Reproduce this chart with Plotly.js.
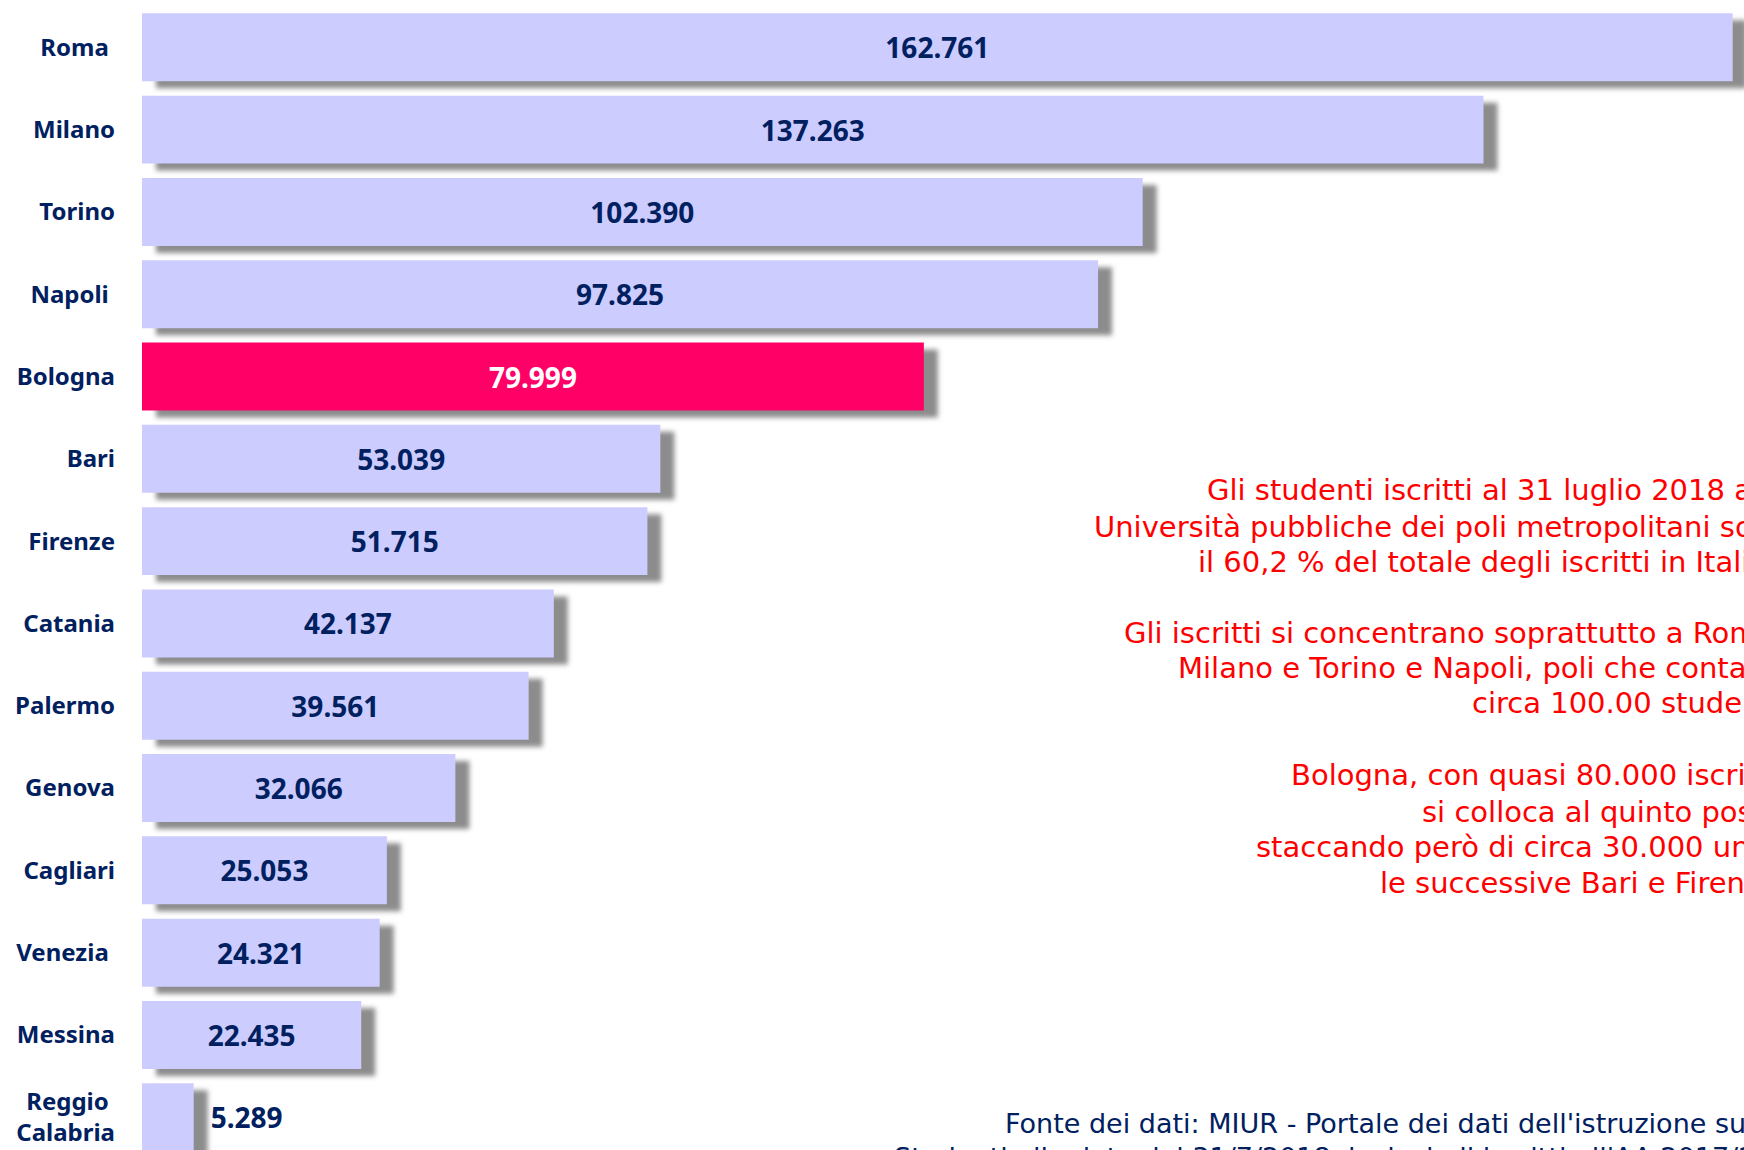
<!DOCTYPE html>
<html>
<head>
<meta charset="utf-8">
<script src="https://cdn.plot.ly/plotly-3.0.1.min.js"></script>
<style>
  html, body { margin: 0; padding: 0; background: #ffffff; }
  #chart { width: 1744px; height: 1150px; }
  g.overplot > g.xy .bars path { filter: url(#shadowBlur); }
</style>
</head>
<body>
<svg width="0" height="0" style="position:absolute">
  <defs>
    <filter id="shadowBlur" x="-0.3" y="-0.3" width="1.6" height="1.6">
      <feGaussianBlur stdDeviation="2.5"/>
    </filter>
  </defs>
</svg>
<div id="chart"></div>
<script>
// ---- data ----
const categories = ["Roma", "Milano", "Torino", "Napoli", "Bologna", "Bari", "Firenze",
  "Catania", "Palermo", "Genova", "Cagliari", "Venezia", "Messina", "Reggio Calabria"];
const tickLabels = ["Roma\u00a0", "Milano", "Torino", "Napoli\u00a0", "Bologna", "Bari", "Firenze",
  "Catania", "Palermo", "Genova", "Cagliari", "Venezia\u00a0", "Messina", "Reggio\u00a0<br>Calabria"];
const students = [162761, 137263, 102390, 97825, 79999, 53039, 51715,
  42137, 39561, 32066, 25053, 24321, 22435, 5289];
const highlightCity = "Bologna";

const noteLines = [
  "Gli studenti iscritti al 31 luglio 2018 alle",
  "Università pubbliche dei poli metropolitani sono",
  "il 60,2 % del totale degli iscritti in Italia.",
  "Gli iscritti si concentrano soprattutto a Roma,",
  "Milano e Torino e Napoli, poli che contano",
  "circa 100.00 studenti.",
  "Bologna, con quasi 80.000 iscritti,",
  "si colloca al quinto posto,",
  "staccando però di circa 30.000 unità",
  "le successive Bari e Firenze."
];
const sourceLines = [
  "Fonte dei dati: MIUR - Portale dei dati dell'istruzione superiore",
  "Studenti alla data del 31/7/2018, inclusi gli iscritti all'AA 2017/2018"
];

// ---- styling / geometry ----
const W = 1744, H = 1150, ML = 142;
const plotW = W - ML;
const xMax = 163920;
const pxPerUnit = plotW / xMax;
const yRange = [13.398, -0.575];
const pitch = H / (yRange[0] - yRange[1]);
const shX = 14, shY = 7;               // shadow offset in px
const xOff = shX / pxPerUnit, yOff = shY / pitch;

const navy = "#002060";
const barColors = categories.map(c => c === highlightCity ? "#FF0066" : "#CCCCFF");
const textColors = categories.map(c => c === highlightCity ? "#FFFFFF" : navy);
const templates = students.map((v, i) => (i === students.length - 1 ? "\u2002%{x:,}" : "%{x:,}"));

const shadow = {
  type: "bar", orientation: "h",
  y: categories, x: students,
  xaxis: "x", yaxis: "y",
  marker: { color: "rgb(140,140,140)" },
  hoverinfo: "skip", showlegend: false
};

const bars = {
  type: "bar", orientation: "h",
  y: categories, x: students,
  xaxis: "x2", yaxis: "y2",
  marker: { color: barColors, line: { width: 0 } },
  texttemplate: templates,
  textposition: "auto",
  insidetextanchor: "middle",
  constraintext: "none",
  textfont: { family: "Noto Sans", size: 28, weight: "bold", color: textColors },
  insidetextfont: { family: "Noto Sans", size: 28, weight: "bold", color: textColors },
  outsidetextfont: { family: "Noto Sans", size: 28, weight: "bold", color: navy },
  cliponaxis: false,
  hoverinfo: "skip", showlegend: false
};

// note positions (px) : left start x, centre y
const noteX = [1205, 1092, 1196, 1122, 1176, 1470, 1289, 1420, 1254, 1378];
const noteY = [490, 527, 562, 633, 668, 703, 775, 812, 847, 883];
const srcX = [1003, 892];
const srcY = [1123, 1157];

const annotations = [];
noteLines.forEach((t, i) => annotations.push({
  text: t, xref: "paper", yref: "paper",
  x: (noteX[i] - ML) / plotW, y: 1 - noteY[i] / H,
  xanchor: "left", yanchor: "middle", showarrow: false,
  font: { family: "DejaVu Sans", size: 29, color: "#FF0000" }
}));
sourceLines.forEach((t, i) => annotations.push({
  text: t, xref: "paper", yref: "paper",
  x: (srcX[i] - ML) / plotW, y: 1 - srcY[i] / H,
  xanchor: "left", yanchor: "middle", showarrow: false,
  font: { family: "DejaVu Sans", size: 27, color: navy }
}));

const layout = {
  width: W, height: H,
  margin: { l: ML, r: 0, t: 0, b: 0, pad: 0 },
  paper_bgcolor: "#ffffff", plot_bgcolor: "rgba(0,0,0,0)",
  separators: ",.",
  bargap: 0.174,
  showlegend: false,
  xaxis: { range: [-xOff, xMax - xOff], visible: false, fixedrange: true },
  yaxis: { type: "category", range: [yRange[0] - yOff, yRange[1] - yOff], visible: false, fixedrange: true },
  xaxis2: { overlaying: "x", range: [0, xMax], visible: false, fixedrange: true },
  yaxis2: {
    overlaying: "y", side: "left", type: "category",
    range: yRange,
    tickvals: categories, ticktext: tickLabels,
    tickfont: { family: "Noto Sans", size: 24, weight: "bold", color: navy },
    ticks: "", ticklabelstandoff: 26,
    showgrid: false, zeroline: false, showline: false, fixedrange: true
  },
  annotations: annotations
};

Plotly.newPlot("chart", [shadow, bars], layout, { displayModeBar: false, staticPlot: true });
</script>
</body>
</html>
